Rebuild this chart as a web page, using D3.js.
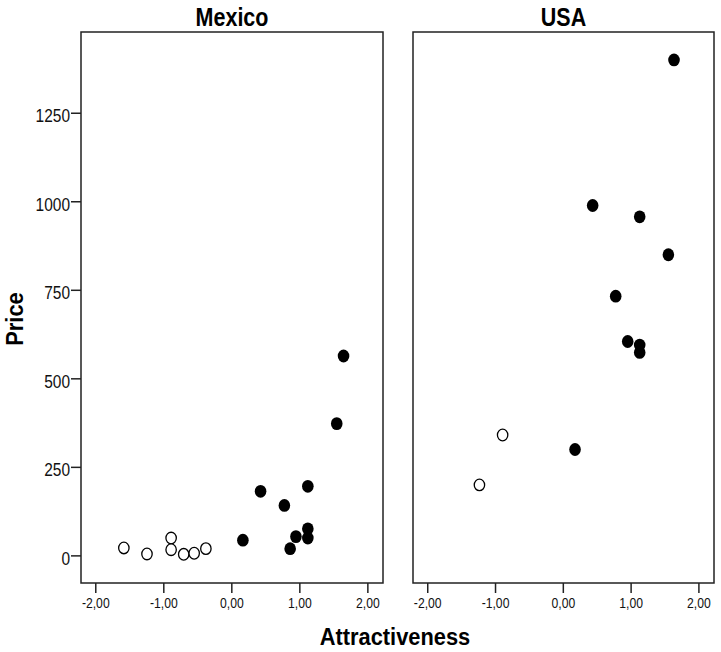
<!DOCTYPE html>
<html>
<head>
<meta charset="utf-8">
<script src="https://cdn.jsdelivr.net/npm/d3@7"></script>
<style>
  html, body { margin: 0; padding: 0; background: #fff; }
  svg { display: block; }
</style>
</head>
<body>
<svg id="chart" width="721" height="652"></svg>
<script>
// ---- data ----
const panelNames = ["Mexico", "USA"];
const mexicoAttr  = [-1.58, -1.24, -0.885, -0.885, -0.70, -0.546, -0.374, 0.17, 0.43, 0.78, 0.865, 0.95, 1.125, 1.125, 1.125, 1.55, 1.65];
const mexicoPrice = [21, 4, 49, 16, 3, 6, 19, 43, 181, 141, 19, 53, 195, 75, 49, 372, 563];
const mexicoFilled = [false, false, false, false, false, false, false, true, true, true, true, true, true, true, true, true, true];
const usaAttr  = [-1.23, -0.888, 0.18, 0.44, 0.78, 0.957, 1.134, 1.134, 1.134, 1.557, 1.64];
const usaPrice = [199, 340, 299, 988, 732, 604, 594, 573, 956, 849, 1399];
const usaFilled = [false, false, true, true, true, true, true, true, true, true, true];
const xTicks = [-2, -1, 0, 1, 2];
const yTicks = [0, 250, 500, 750, 1000, 1250];
const xDomain = [-2.21, 2.23];
const yDomain = [-78, 1478];

// ---- layout ----
const svg = d3.select("#chart");
const plotTop = 32, plotBottom = 583;
const panels = [
  { name: panelNames[0], x0: 81, x1: 383, attr: mexicoAttr, price: mexicoPrice, filled: mexicoFilled },
  { name: panelNames[1], x0: 413, x1: 714, attr: usaAttr, price: usaPrice, filled: usaFilled }
];
const y = d3.scaleLinear().domain(yDomain).range([plotBottom, plotTop]);
const fmtX = d => d3.format(".2f")(d).replace(".", ",").replace("\u2212", "-");
const fmtY = d => String(d);
const font = "'Liberation Sans', Arial, sans-serif";

panels.forEach((p, i) => {
  const x = d3.scaleLinear().domain(xDomain).range([p.x0, p.x1]);
  const g = svg.append("g");

  // frame
  g.append("rect")
    .attr("x", p.x0).attr("y", plotTop)
    .attr("width", p.x1 - p.x0).attr("height", plotBottom - plotTop)
    .attr("fill", "none").attr("stroke", "#222").attr("stroke-width", 1.5);

  // title
  g.append("text")
    .attr("transform", `translate(${(p.x0 + p.x1) / 2},26) scale(0.86,1)`)
    .attr("text-anchor", "middle")
    .attr("font-family", font).attr("font-weight", "bold")
    .attr("font-size", 25)
    .text(p.name);

  // x axis
  const xAxis = d3.axisBottom(x).tickValues(xTicks).tickFormat(fmtX).tickSize(10).tickPadding(5);
  const xg = g.append("g").attr("transform", `translate(0,${plotBottom})`).call(xAxis);
  xg.select(".domain").remove();
  xg.selectAll(".tick line").attr("stroke", "#222").attr("stroke-width", 1.5);
  xg.selectAll(".tick text")
    .attr("font-family", font).attr("font-size", 14).attr("fill", "#111")
    .attr("transform", "scale(0.87,1)");

  // y axis on first panel
  if (i === 0) {
    const yAxis = d3.axisLeft(y).tickValues(yTicks).tickFormat(fmtY).tickSize(10).tickPadding(1);
    const yg = g.append("g").attr("transform", `translate(${p.x0},0)`).call(yAxis);
    yg.select(".domain").remove();
    yg.selectAll(".tick line").attr("stroke", "#222").attr("stroke-width", 1.5);
    yg.selectAll(".tick text")
      .attr("x", 0)
      .attr("transform", "translate(-11,0) scale(0.86,1)")
      .attr("font-family", font).attr("font-size", 18).attr("fill", "#111").attr("dy", "0.5em");
  }

  // points
  const pts = p.attr.map((a, k) => ({ a, v: p.price[k], f: p.filled[k] }));
  g.selectAll("ellipse.pt").data(pts).enter().append("ellipse")
    .attr("class", "pt")
    .attr("cx", d => x(d.a)).attr("cy", d => y(d.v))
    .attr("rx", d => d.f ? 5.8 : 5.2).attr("ry", d => d.f ? 6.4 : 5.8)
    .attr("fill", d => d.f ? "#000" : "#fff")
    .attr("stroke", "#000").attr("stroke-width", d => d.f ? 0 : 1.3);
});

// axis titles
svg.append("text")
  .attr("transform", "translate(395,645) scale(0.91,1)")
  .attr("text-anchor", "middle")
  .attr("font-family", font).attr("font-weight", "bold").attr("font-size", 24)
  .text("Attractiveness");

svg.append("text")
  .attr("transform", "translate(23,319) rotate(-90) scale(0.91,1)")
  .attr("text-anchor", "middle")
  .attr("font-family", font).attr("font-weight", "bold").attr("font-size", 24)
  .text("Price");
</script>
</body>
</html>
